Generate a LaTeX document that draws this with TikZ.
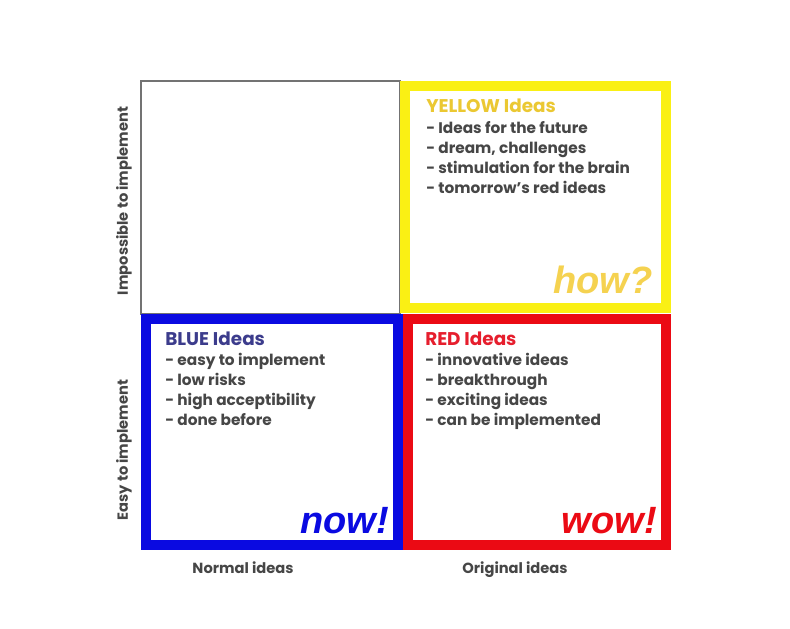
\documentclass[tikz,border=0pt]{standalone}
\usepackage{fontspec}
\setmainfont{Poppins}
\setsansfont{Liberation Sans}
\usetikzlibrary{positioning}
\definecolor{ideasyellow}{RGB}{250,240,20}
\definecolor{ideasblue}{RGB}{10,10,225}
\definecolor{ideasred}{RGB}{235,10,20}
\definecolor{ideasgray}{RGB}{70,70,70}
\definecolor{framegray}{RGB}{115,115,115}
\definecolor{ylwtitle}{RGB}{235,200,50}
\definecolor{bluetitle}{RGB}{60,60,140}
\definecolor{redtitle}{RGB}{230,30,45}
\definecolor{howgold}{RGB}{245,210,80}
\tikzset{
    quad/.style={draw=#1, line width=7.5pt},
    ttl/.style={text=#1, anchor=base west, inner sep=0pt,
                font=\fontsize{13.8}{15}\selectfont\bfseries},
    % anchored at the baseline of the last line
    items/.style={text=ideasgray, anchor=base west, inner sep=0pt, align=left,
                  font=\fontsize{11.5}{15}\selectfont\bfseries},
    bigword/.style={text=#1, anchor=base east, inner sep=0pt,
                    font=\fontsize{28.5}{30}\selectfont\sffamily\bfseries\itshape},
    axislbl/.style={text=ideasgray, inner sep=0pt,
                    font=\fontsize{11}{13}\selectfont\bfseries},
}

\begin{document}
\begin{tikzpicture}[x=0.75pt, y=-0.75pt]
    \useasboundingbox[fill=white] (0,0) rectangle (790,629);

    % the four quadrants
    \draw[framegray, line width=1.2pt] (141,81) rectangle (400,314);
    \draw[quad=ideasyellow] (405,86)    rectangle (666,308);
    \draw[quad=ideasblue]   (146,319)   rectangle (398,545);
    \draw[quad=ideasred]    (407.5,318.5) rectangle (666,544.5);

    \node[ttl=ylwtitle]  (ylwttl)  at (426,112) {YELLOW Ideas};
    \node[items]         (ylwlist) at (426,193) {- Ideas for the future\\- dream, challenges\\- stimulation for the brain\\- tomorrow's red ideas};
    \node[bigword=howgold] (how)   at (653,293) {how?};

    \node[ttl=bluetitle] (bluttl)  at (165,345) {BLUE Ideas};
    \node[items]         (blulist) at (165,425) {- easy to implement\\- low risks\\- high acceptibility\\- done before};
    \node[bigword=ideasblue] (now) at (389,533) {now!};

    \node[ttl=redtitle]  (redttl)  at (425,345) {RED Ideas};
    \node[items]         (redlist) at (425,425) {- innovative ideas\\- breakthrough\\- exciting ideas\\- can be implemented};
    \node[bigword=ideasred] (wow)  at (657,533) {wow!};

    % axis labels
    \node[axislbl, rotate=90] (impossible) at (124,201) {Impossible to implement};
    \node[axislbl, rotate=90] (easy)       at (124,450) {Easy to implement};
    \node[axislbl, anchor=base] (normal)   at (243,573) {Normal ideas};
    \node[axislbl, anchor=base] (original) at (515,573) {Original ideas};
\end{tikzpicture}
\end{document}
